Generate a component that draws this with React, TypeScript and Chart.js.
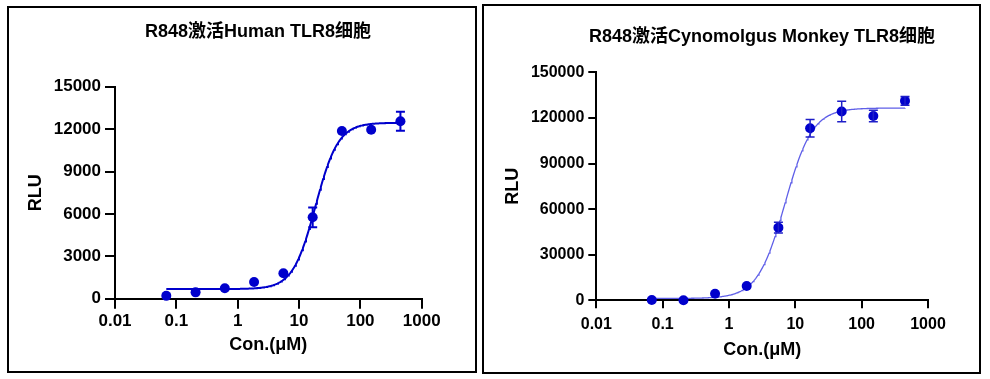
import React, { useEffect, useRef } from 'react';
import { Chart, registerables } from 'chart.js';

Chart.register(...registerables);

// ---------- data ----------
const conc = [0.0686, 0.206, 0.617, 1.85, 5.56, 16.7, 50, 150, 450];

const humanTitle = 'R848激活Human TLR8细胞';
const humanRLU = [200, 450, 740, 1180, 1800, 5760, 11870, 11960, 12550];
const humanSD = [0, 0, 0, 0, 0, 700, 0, 0, 670];
// fitted 4PL curve parameters: bottom, top, EC50, Hill slope
const humanFit = [680, 12450, 18.6, 2.35];
const humanYTicks = [0, 3000, 6000, 9000, 12000, 15000];

const monkeyTitle = 'R848激活Cynomolgus Monkey TLR8细胞';
const monkeyRLU = [150, 50, 4300, 9400, 47800, 113200, 124200, 121300, 131200];
const monkeySD = [0, 0, 0, 0, 3500, 5700, 6800, 3800, 2850];
const monkeyFit = [1200, 126500, 7.0, 2.1];
const monkeyYTicks = [0, 30000, 60000, 90000, 120000, 150000];

const xTicks = [0.01, 0.1, 1, 10, 100, 1000];
const xTitle = 'Con.(μM)';
const yTitle = 'RLU';

const FONT = 'Arial, "Liberation Sans", "Noto Sans CJK SC", sans-serif';

function fitCurve(fit: number[], xs: number[]) {
  const [bottom, top, ec50, hill] = fit;
  const lo = Math.log10(xs[0]);
  const hi = Math.log10(xs[xs.length - 1]);
  const pts: { x: number; y: number }[] = [];
  const n = 300;
  for (let i = 0; i <= n; i++) {
    const x = Math.pow(10, lo + ((hi - lo) * i) / n);
    pts.push({ x, y: bottom + (top - bottom) / (1 + Math.pow(ec50 / x, hill)) });
  }
  return pts;
}

const errorBarPlugin = {
  id: 'errorBars',
  afterDatasetsDraw(chart: any, _args: any, opts: any) {
    const ds = chart.data.datasets[0];
    const xs = chart.scales.x;
    const ys = chart.scales.y;
    const ctx = chart.ctx;
    ctx.save();
    ctx.strokeStyle = opts.color;
    ctx.lineWidth = opts.lineWidth;
    (ds.data as any[]).forEach((p, i) => {
      const e = opts.errors[i];
      if (!e) return;
      const x = xs.getPixelForValue(p.x);
      const y1 = ys.getPixelForValue(p.y + e);
      const y2 = ys.getPixelForValue(p.y - e);
      const c = opts.capWidth / 2;
      ctx.beginPath();
      ctx.moveTo(x, y1);
      ctx.lineTo(x, y2);
      ctx.moveTo(x - c, y1);
      ctx.lineTo(x + c, y1);
      ctx.moveTo(x - c, y2);
      ctx.lineTo(x + c, y2);
      ctx.stroke();
    });
    ctx.restore();
  },
};

const panelTitlePlugin = {
  id: 'panelTitle',
  afterDraw(chart: any, _args: any, opts: any) {
    const ctx = chart.ctx;
    ctx.save();
    ctx.font = opts.font;
    ctx.fillStyle = '#000';
    ctx.textAlign = 'center';
    ctx.textBaseline = 'middle';
    ctx.fillText(opts.text, opts.x, opts.y);
    ctx.restore();
  },
};

type Geo = {
  pad: { left: number; right: number; top: number; bottom: number };
  yAxisWidth: number;
  xAxisHeight: number;
  yTitlePad: number;
  xTitlePad: number;
  titleX: number;
  titleY: number;
  tickLen: number;
  tickFont: number;
  xTickPad: number;
};

function makeConfig(
  title: string,
  values: number[],
  sd: number[],
  fit: number[],
  yTicks: number[],
  g: Geo,
  colors: { point: string; curve: string; curveWidth: number; err: string; errWidth: number }
): any {
  const axisCommon = {
    grid: {
      display: true,
      drawOnChartArea: false,
      drawTicks: true,
      tickLength: g.tickLen,
      lineWidth: 2,
      color: '#000',
    },
    border: { display: true, width: 2, color: '#000' },
  };
  return {
    type: 'scatter',
    data: {
      datasets: [
        {
          data: conc.map((x, i) => ({ x, y: values[i] })),
          backgroundColor: colors.point,
          borderColor: colors.point,
          pointRadius: 5,
          pointBorderWidth: 0,
          showLine: false,
          clip: false,
        },
        {
          data: fitCurve(fit, conc),
          borderColor: colors.curve,
          borderWidth: colors.curveWidth,
          pointRadius: 0,
          showLine: true,
          tension: 0,
          fill: false,
        },
      ],
    },
    options: {
      responsive: false,
      animation: false,
      devicePixelRatio: 1,
      layout: { padding: g.pad },
      plugins: {
        legend: { display: false },
        title: { display: false },
        tooltip: { enabled: false },
        errorBars: { errors: sd, color: colors.err, lineWidth: colors.errWidth, capWidth: 9 },
        panelTitle: { text: title, x: g.titleX, y: g.titleY, font: `bold 18px ${FONT}` },
      },
      scales: {
        x: {
          type: 'logarithmic',
          position: 'bottom',
          min: xTicks[0],
          max: xTicks[xTicks.length - 1],
          afterBuildTicks: (s: any) => {
            s.ticks = xTicks.map((v) => ({ value: v }));
          },
          afterFit: (s: any) => {
            s.height = g.xAxisHeight;
          },
          ...axisCommon,
          ticks: {
            color: '#000',
            autoSkip: false,
            maxRotation: 0,
            padding: g.xTickPad,
            font: { family: FONT, weight: 'bold', size: g.tickFont },
            callback: (v: any) => String(v),
          },
          title: {
            display: true,
            text: xTitle,
            color: '#000',
            font: { family: FONT, weight: 'bold', size: 18 },
            padding: { top: 0, bottom: g.xTitlePad },
          },
        },
        y: {
          type: 'linear',
          position: 'left',
          min: yTicks[0],
          max: yTicks[yTicks.length - 1],
          afterBuildTicks: (s: any) => {
            s.ticks = yTicks.map((v) => ({ value: v }));
          },
          afterFit: (s: any) => {
            s.width = g.yAxisWidth;
          },
          ...axisCommon,
          ticks: {
            color: '#000',
            padding: 4,
            font: { family: FONT, weight: 'bold', size: g.tickFont },
            callback: (v: any) => String(v),
          },
          title: {
            display: true,
            text: yTitle,
            color: '#000',
            font: { family: FONT, weight: 'bold', size: 18 },
            padding: { top: g.yTitlePad, bottom: 0 },
          },
        },
      },
    },
    plugins: [errorBarPlugin, panelTitlePlugin],
  };
}

function Panel(props: { left: number; top: number; width: number; height: number; config: any }) {
  const ref = useRef<HTMLCanvasElement>(null);
  useEffect(() => {
    const chart = new Chart(ref.current as HTMLCanvasElement, props.config);
    return () => chart.destroy();
  }, []);
  const { left, top, width, height } = props;
  return (
    <>
      <div
        style={{
          position: 'absolute',
          left,
          top,
          width,
          height,
          border: '2px solid #000',
          boxSizing: 'border-box',
        }}
      />
      <canvas
        ref={ref}
        width={width}
        height={height}
        style={{ position: 'absolute', left, top, width, height }}
      />
    </>
  );
}

export default function App() {
  const humanCfg = makeConfig(
    humanTitle,
    humanRLU,
    humanSD,
    humanFit,
    humanYTicks,
    {
      pad: { left: 10, right: 55.3, top: 80.7, bottom: 14.3 },
      yAxisWidth: 98,
      xAxisHeight: 60,
      yTitlePad: 8.2,
      xTitlePad: 2.9,
      titleX: 251,
      titleY: 26.3,
      tickLen: 10,
      tickFont: 17,
      xTickPad: 2,
    },
    { point: 'rgb(0,0,204)', curve: 'rgb(0,0,204)', curveWidth: 2, err: 'rgb(0,0,204)', errWidth: 2 }
  );
  const monkeyCfg = makeConfig(
    monkeyTitle,
    monkeyRLU,
    monkeySD,
    monkeyFit,
    monkeyYTicks,
    {
      pad: { left: 10, right: 53, top: 68.3, bottom: 11.7 },
      yAxisWidth: 104.3,
      xAxisHeight: 62,
      yTitlePad: 10.2,
      xTitlePad: 1.5,
      titleX: 280,
      titleY: 32.7,
      tickLen: 8,
      tickFont: 16,
      xTickPad: 7,
    },
    { point: 'rgb(0,0,204)', curve: 'rgb(95,95,232)', curveWidth: 1.3, err: 'rgb(30,30,200)', errWidth: 1.5 }
  );
  return (
    <div
      style={{
        position: 'fixed',
        left: 0,
        top: 0,
        width: 990,
        height: 379,
        background: '#fff',
        overflow: 'hidden',
      }}
    >
      <Panel left={7} top={6} width={470} height={367} config={humanCfg} />
      <Panel left={482} top={4} width={499} height={370} config={monkeyCfg} />
    </div>
  );
}
